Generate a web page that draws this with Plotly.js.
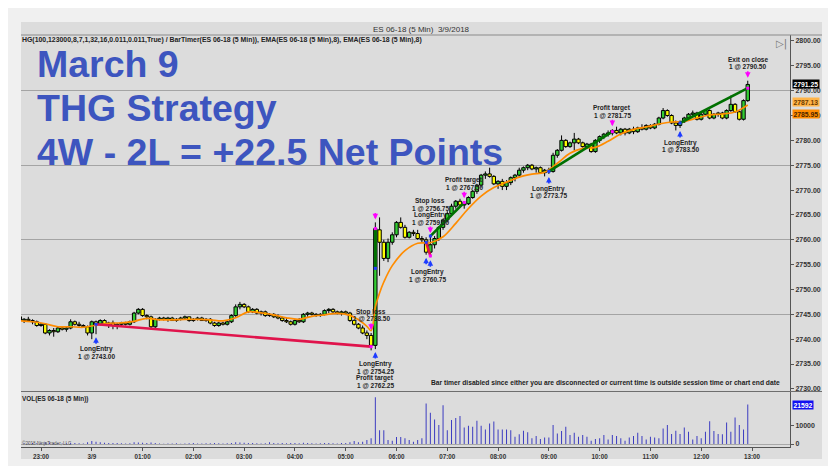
<!DOCTYPE html>
<html><head><meta charset="utf-8">
<script src="https://cdn.plot.ly/plotly-3.0.1.min.js"></script>
<style>html,body{margin:0;padding:0;background:#F0F0F0;}#chart{width:828px;height:466px;}</style>
</head><body><div id="chart"></div>
<script>
// ---------- DATA (ES 06-18, 5 Min bars, 3/8 22:35 -> 3/9 12:55) ----------
const firstBar = '22:35';
const openP = [
 2744.50,2743.75,2744.00,2743.75,2743.50,
 2742.75,2743.00,2741.25,2741.75,2741.50,2742.25,2742.00,2742.25,2743.50,2743.00,2742.75,2742.50,
 2741.25,2743.50,2743.00,2743.75,2743.00,2743.25,2742.75,2743.00,2743.25,2743.00,2743.50,2745.25,
 2746.00,2744.75,2744.50,2742.50,2744.00,2744.25,2744.00,2744.25,2743.75,2744.00,2744.25,2744.50,
 2743.75,2744.00,2744.25,2743.75,2744.00,2743.25,2742.75,2743.25,2743.00,2743.50,2744.75,2746.50,
 2747.00,2746.50,2745.50,2746.00,2745.25,2745.50,2744.75,2745.00,2744.50,2744.25,2743.75,2743.50,
 2743.00,2743.75,2743.50,2745.00,2745.25,2745.00,2744.75,2745.00,2745.75,2746.00,2745.50,2745.25,
 2745.50,2745.25,2743.75,2743.00,2742.25,2741.25,2740.75,2738.75,2762.00,2759.50,2756.25,2759.50,
 2761.00,2763.50,2762.50,2760.50,2761.50,2761.25,2760.25,2760.00,2757.50,2759.00,2760.25,2762.50,
 2764.00,2765.25,2766.75,2767.75,2767.00,2767.25,2768.50,2769.75,2771.00,2773.00,2773.25,2772.75,
 2771.25,2771.75,2770.75,2771.50,2772.50,2773.00,2774.00,2774.50,2775.00,2774.25,2774.50,2773.50,
 2774.00,2773.75,2777.00,2778.00,2780.00,2778.75,2779.50,2780.25,2779.50,2778.75,2779.25,2777.75,
 2780.00,2780.75,2781.25,2781.50,2782.00,2781.50,2782.25,2781.50,2782.25,2781.75,2782.50,2782.25,
 2783.00,2782.50,2783.25,2784.50,2786.00,2785.00,2783.50,2783.00,2783.75,2784.50,2785.25,2785.50,
 2784.25,2785.25,2786.00,2784.50,2785.25,2785.50,2784.50,2786.00,2787.25,2785.75,2784.25,2788.00
];
const highP = [
 2745.00,2744.25,2744.50,2744.00,2743.75,
 2743.25,2743.25,2742.00,2742.25,2742.50,2742.50,2742.50,2744.00,2743.75,2743.50,2743.00,2742.75,
 2743.75,2743.75,2744.00,2744.00,2743.50,2743.75,2743.25,2743.50,2743.50,2743.75,2745.50,2746.25,
 2746.25,2745.00,2744.75,2744.25,2744.50,2744.50,2744.50,2744.50,2744.25,2744.50,2744.75,2744.50,
 2744.25,2744.50,2744.50,2744.25,2744.25,2743.50,2743.50,2743.50,2743.75,2745.00,2747.00,2747.50,
 2747.25,2746.75,2746.25,2746.25,2745.75,2745.75,2745.25,2745.25,2745.00,2744.50,2744.25,2743.75,
 2744.00,2744.25,2745.25,2745.50,2745.50,2745.25,2745.25,2746.00,2746.25,2746.25,2745.75,2745.75,
 2745.75,2745.50,2744.00,2743.25,2742.75,2741.75,2741.25,2763.50,2764.50,2760.00,2760.25,2761.50,
 2763.75,2764.50,2763.00,2761.75,2762.00,2762.00,2760.75,2760.50,2760.75,2760.75,2762.75,2764.25,
 2765.75,2767.25,2768.00,2768.25,2767.75,2768.75,2770.00,2771.25,2773.25,2773.75,2774.50,2773.00,
 2772.00,2772.25,2772.00,2772.75,2773.25,2774.50,2774.75,2775.25,2775.25,2774.75,2774.75,2774.25,
 2774.50,2777.50,2778.25,2781.00,2780.25,2779.75,2781.50,2780.50,2779.75,2779.50,2779.50,2780.25,
 2781.00,2781.50,2782.00,2782.25,2782.75,2782.50,2782.50,2782.50,2782.75,2782.75,2783.25,2783.25,
 2783.25,2783.50,2784.75,2786.50,2786.25,2785.25,2784.00,2784.00,2784.75,2785.50,2786.00,2785.75,
 2785.50,2786.25,2786.25,2785.50,2785.75,2785.75,2786.25,2789.00,2787.50,2786.00,2788.25,2792.00
];
const lowP = [
 2743.25,2743.25,2743.50,2743.00,2742.50,
 2742.50,2741.00,2740.75,2740.50,2741.25,2741.75,2741.50,2742.00,2742.75,2742.50,2742.25,2740.75,
 2740.00,2741.00,2742.75,2742.75,2742.25,2742.00,2742.00,2742.50,2742.75,2742.75,2743.25,2745.00,
 2744.50,2744.00,2742.00,2742.25,2743.75,2743.75,2743.50,2743.75,2743.50,2743.75,2744.00,2743.50,
 2743.50,2743.75,2743.75,2743.50,2743.00,2742.50,2742.50,2742.75,2742.75,2743.25,2744.50,2746.00,
 2746.25,2745.25,2745.25,2745.00,2744.75,2744.50,2744.50,2744.25,2744.00,2743.50,2743.25,2742.75,
 2742.75,2743.25,2743.25,2744.50,2744.75,2744.50,2744.50,2744.75,2745.25,2745.25,2745.00,2744.75,
 2745.00,2743.50,2742.75,2742.00,2741.00,2740.00,2737.75,2738.00,2752.75,2755.75,2755.50,2759.00,
 2760.50,2762.25,2760.25,2760.25,2760.75,2760.00,2759.50,2757.00,2756.50,2758.25,2759.75,2762.00,
 2763.50,2764.75,2766.25,2766.50,2766.25,2767.00,2768.25,2769.25,2770.50,2772.25,2772.50,2771.00,
 2770.25,2770.00,2770.00,2771.00,2771.75,2772.50,2773.50,2774.00,2774.00,2773.50,2773.25,2772.75,
 2773.25,2773.50,2776.50,2777.75,2778.50,2778.50,2778.00,2779.25,2778.50,2778.25,2777.50,2777.50,
 2779.50,2780.25,2780.75,2781.00,2781.25,2781.00,2781.00,2781.25,2781.25,2781.50,2782.00,2782.00,
 2782.25,2782.25,2783.00,2784.25,2784.75,2783.25,2782.00,2782.50,2783.50,2784.25,2784.75,2784.00,
 2784.00,2785.00,2784.25,2784.25,2784.75,2784.25,2784.25,2785.75,2785.50,2784.00,2784.00,2787.75
];
const closeP = [
 2743.75,2744.00,2743.75,2743.50,2742.75,
 2743.00,2741.25,2741.75,2741.50,2742.25,2742.00,2742.25,2743.50,2743.00,2742.75,2742.50,2741.25,
 2743.50,2743.00,2743.75,2743.00,2743.25,2742.75,2743.00,2743.25,2743.00,2743.50,2745.25,2746.00,
 2744.75,2744.50,2742.50,2744.00,2744.25,2744.00,2744.25,2743.75,2744.00,2744.25,2744.50,2743.75,
 2744.00,2744.25,2743.75,2744.00,2743.25,2742.75,2743.25,2743.00,2743.50,2744.75,2746.50,2747.00,
 2746.50,2745.50,2746.00,2745.25,2745.50,2744.75,2745.00,2744.50,2744.25,2743.75,2743.50,2743.00,
 2743.75,2743.50,2745.00,2745.25,2745.00,2744.75,2745.00,2745.75,2746.00,2745.50,2745.25,2745.50,
 2745.25,2743.75,2743.00,2742.25,2741.25,2740.75,2738.75,2762.25,2759.50,2756.25,2759.50,2761.00,
 2763.50,2762.50,2760.50,2761.50,2761.25,2760.25,2760.00,2757.50,2759.00,2760.25,2762.50,2764.00,
 2765.25,2766.75,2767.75,2767.00,2767.25,2768.50,2769.75,2771.00,2773.00,2773.25,2772.75,2771.25,
 2771.75,2770.75,2771.50,2772.50,2773.00,2774.00,2774.50,2775.00,2774.25,2774.50,2773.50,2774.00,
 2773.75,2777.00,2778.00,2780.00,2778.75,2779.50,2780.25,2779.50,2778.75,2779.25,2777.75,2780.00,
 2780.75,2781.25,2781.50,2782.00,2781.50,2782.25,2781.50,2782.25,2781.75,2782.50,2782.25,2783.00,
 2782.50,2783.25,2784.50,2786.00,2785.00,2783.50,2783.00,2783.75,2784.50,2785.25,2785.50,2784.25,
 2785.25,2786.00,2784.50,2785.25,2785.50,2784.50,2786.00,2787.25,2785.75,2784.25,2788.00,2791.25
];
const volumeV = [
 600,400,300,500,400,
 700,900,800,600,500,300,400,700,500,400,300,900,
 1600,1200,900,700,600,500,500,400,300,400,900,800,
 700,500,800,600,300,200,300,300,400,200,300,400,
 500,300,300,400,400,500,400,300,400,600,900,800,
 700,600,500,400,300,400,900,500,400,500,400,600,
 600,400,700,500,400,300,400,600,500,400,300,500,
 600,900,1600,900,1300,2200,3100,25700,7600,7600,2200,1800,
 3800,3800,3100,2200,1300,2200,3100,22200,17100,13500,10400,21300,
 7600,13100,14200,15300,9100,10000,9500,12700,10000,8000,11300,12400,
 8000,8000,8000,7600,4000,5300,7300,6500,3100,4400,2700,3500,
 3600,10400,5800,7100,9500,4900,6200,4000,4900,4000,1800,2700,
 3100,4900,2500,4900,4400,3100,1800,3600,4400,6200,4400,2500,
 4000,3500,3100,8500,10400,5500,7300,5500,9100,6700,2500,4400,
 3100,6700,12500,7100,5500,5300,11800,6700,14500,10400,8000,21592
];
// EMA(8)
const emaTimes = ['22:35','22:50','23:05','23:20','23:35','23:50','00:05','00:20','00:35','00:50','01:05','01:20','01:35','01:50','02:05','02:20','02:35','02:50','03:05','03:20','03:35','03:50','04:05','04:20','04:35','04:50','05:05','05:15','05:25','05:30','05:35','05:40','05:45','05:55','06:10','06:25','06:40','06:55','07:10','07:25','07:40','07:55','08:10','08:25','08:40','08:55','09:10','09:25','09:40','09:55','10:10','10:25','10:40','10:55','11:10','11:25','11:40','11:55','12:10','12:25','12:40','12:55'];
const emaVals = [2743.7,2743.5,2743.1,2742.5,2742.5,2742.4,2742.8,2743.2,2743.3,2743.6,2744.2,2743.9,2743.9,2744.0,2744.0,2743.9,2743.7,2744.3,2745.5,2745.3,2744.9,2744.3,2744.0,2744.6,2744.9,2745.2,2744.8,2743.9,2742.6,2741.7,2746.5,2749.3,2751.5,2754.8,2757.8,2759.3,2759.4,2760.6,2763.3,2766.3,2768.8,2770.5,2771.6,2772.6,2773.2,2773.6,2775.4,2777.4,2778.4,2778.6,2779.8,2781.3,2782.2,2782.7,2783.3,2783.7,2783.8,2784.5,2785.1,2785.3,2785.7,2787.1];
// trades
const entryTimes  = ['00:05','05:35','06:35','06:40','09:00','11:35'];
const entryPrices = [2743.00,2754.25,2759.50,2760.75,2773.75,2783.50];
const exitTimes   = ['05:30','05:35','06:40','07:20','10:15','12:55'];
const exitPrices  = [2738.50,2762.25,2756.75,2767.50,2781.75,2790.50];
const exitNames   = ['Stop loss','Profit target','Stop loss','Profit target','Profit target','Exit on close'];
// axis labels
const tickTimes  = ['23:00','00:00','01:00','02:00','03:00','04:00','05:00','06:00','07:00','08:00','09:00','10:00','11:00','12:00','13:00'];
const tickLabels = ['23:00','3/9','01:00','02:00','03:00','04:00','05:00','06:00','07:00','08:00','09:00','10:00','11:00','12:00','13:00'];
const volTicks = [0, 10000];
const lastPrice = 2791.25, ema1Last = 2787.13, ema2Last = 2785.95;

// ---------- helpers ----------
function toX(s){ const h = +s.slice(0,2); return (h >= 22 ? '2018-03-08 ' : '2018-03-09 ') + s + ':00'; }
const startMin = (+firstBar.slice(0,2))*60 + (+firstBar.slice(3));
const barLabels = openP.map((_, i) => { const m = (startMin + 5*i) % 1440; return String(Math.floor(m/60)).padStart(2,'0') + ':' + String(m%60).padStart(2,'0'); });
const barX = barLabels.map(toX);
const bi = t => barLabels.indexOf(t);

const L = 21, R = 790, T = 35, B = 447;
const px = x => (x - L) / (R - L);
const py = y => (B - y) / (B - T);
const FONT = 'Liberation Sans, Arial, sans-serif';

// ---------- traces ----------
const traces = [];
traces.push({type:'scatter', mode:'lines', x:[barX[0]], y:[emaVals[0]], xaxis:'x', yaxis:'y3', line:{width:0}, hoverinfo:'skip'});
const bodyBase = openP.map((o, i) => Math.min(o, closeP[i]));
const bodyLen  = openP.map((o, i) => Math.max(Math.abs(closeP[i] - o), 0.1));
const bodyCol  = openP.map((o, i) => closeP[i] >= o ? '#33CC33' : '#FFFF00');
traces.push({
  type:'bar', x: barX, base: bodyBase, y: bodyLen, xaxis:'x', yaxis:'y', width: 240000,
  marker:{color: bodyCol, line:{color:'#000000', width:1}}, hoverinfo:'skip'
});
const wx = [], wy = [];
openP.forEach((o, i) => {
  const top = Math.max(o, closeP[i]), bot = Math.min(o, closeP[i]);
  if (highP[i] > top) { wx.push(barX[i], barX[i], null); wy.push(highP[i], top, null); }
  if (lowP[i] < bot)  { wx.push(barX[i], barX[i], null); wy.push(bot, lowP[i], null); }
});
traces.push({type:'scatter', mode:'lines', x: wx, y: wy, xaxis:'x', yaxis:'y', connectgaps:false,
  line:{color:'#000000', width:1}, hoverinfo:'skip'});
traces.push({
  type:'scatter', mode:'lines', x: emaTimes.map(toX), y: emaVals, xaxis:'x', yaxis:'y',
  line:{color:'#FF8C00', width:1.7, shape:'spline', smoothing:1}, hoverinfo:'skip'
});
entryTimes.forEach((t, k) => {
  const win = exitPrices[k] > entryPrices[k];
  traces.push({
    type:'scatter', mode:'lines', x:[toX(t), toX(exitTimes[k])], y:[entryPrices[k], exitPrices[k]],
    xaxis:'x', yaxis:'y', line:{color: win ? '#007000' : '#E0144C', width: 2.6}, hoverinfo:'skip'
  });
});
traces.push({type:'scatter', mode:'markers', x: entryTimes.map(toX), y: entryPrices, xaxis:'x', yaxis:'y',
  marker:{symbol:'square', size:3, color:'#1E3CFF'}, hoverinfo:'skip'});
traces.push({type:'scatter', mode:'markers', x: exitTimes.map(toX), y: exitPrices, xaxis:'x', yaxis:'y',
  marker:{symbol:'square', size:3, color:'#FF00FF'}, hoverinfo:'skip'});
traces.push({
  type:'bar', x: barX, y: volumeV, xaxis:'x', yaxis:'y2', width: 70000,
  marker:{color:'#3A3AC0', line:{width:0}}, hoverinfo:'skip'
});

// ---------- annotations ----------
const ann = [];
const small = (txt, x, y, opts) => Object.assign({xref:'paper', yref:'paper', x:px(x), y:py(y), text:txt, showarrow:false,
  font:{family:FONT, size:6.9, color:'#222'}, xanchor:'left', yanchor:'middle'}, opts||{});

ann.push(small('ES 06-18 (5 Min)  3/9/2018', 421, 29, {xanchor:'center', font:{family:FONT, size:8, color:'#333'}}));
ann.push(small('<b>HG(100,123000,8,7,1,32,16,0.011,0.011,True) / BarTimer(ES 06-18 (5 Min)), EMA(ES 06-18 (5 Min),8), EMA(ES 06-18 (5 Min),8)</b>', 20, 40));
ann.push(small('<b>VOL(ES 06-18 (5 Min))</b>', 20, 399, {font:{family:FONT, size:6.4, color:'#222'}}));
ann.push(small('©2018 NinjaTrader, LLC', 20, 443, {font:{family:FONT, size:4.6, color:'#555'}}));
ann.push(small('<b>Bar timer disabled since either you are disconnected or current time is outside session time or chart end date</b>', 782, 383, {xanchor:'right', font:{family:FONT, size:6.7, color:'#222'}}));
ann.push(small('▷|', 781, 44, {xanchor:'center', font:{family:'DejaVu Sans', size:10, color:'#777'}}));

const titleLines = ['March 9', 'THG Strategy', '4W - 2L = +22.5 Net Points'];
titleLines.forEach((s, k) => ann.push(small('<b>' + s + '</b>', 35, 64 + 44*k,
  {font:{family:FONT, size:37.5, color:'#3D55BF'}})));

const flag = (txt, yref, y, bg, fg, ys) => ({xref:'paper', yref:yref, x:px(792), y:y, xanchor:'left', yanchor:'middle',
  text:'<b>'+txt+'</b>', showarrow:false, bgcolor:bg, borderpad:0.5, yshift: ys||0, font:{family:FONT, size:6.8, color:fg}});
ann.push(flag(lastPrice.toFixed(2), 'y', lastPrice, '#000000', '#FFFFFF'));
ann.push(flag(ema1Last.toFixed(2), 'y', ema1Last, '#FFB347', '#6B3A00', 3));
ann.push(flag(ema2Last.toFixed(2), 'y', ema2Last, '#FF8C00', '#4A2500', -3));
ann.push(flag(String(volumeV[volumeV.length-1]), 'y2', volumeV[volumeV.length-1], '#1010F0', '#FFFFFF'));

entryTimes.forEach(t => { const i = bi(t);
  ann.push({x: barX[i], y: lowP[i], xref:'x', yref:'y', text:'', showarrow:true, ax:0, ay:8, yshift:-3,
    arrowhead:2, arrowsize:0.7, arrowwidth:1.6, arrowcolor:'#1E3CFF'}); });
exitTimes.forEach(t => { const i = bi(t);
  ann.push({x: barX[i], y: highP[i], xref:'x', yref:'y', text:'', showarrow:true, ax:0, ay:-8, yshift:3,
    arrowhead:2, arrowsize:0.7, arrowwidth:1.6, arrowcolor:'#FF00FF'}); });

const fmt = p => '1 @ ' + p.toFixed(2);
const groups = [
  {t: entryTimes[0], side:'below', lines:['LongEntry', fmt(entryPrices[0])]},
  {t: exitTimes[0],  side:'above', lines:[exitNames[0], fmt(exitPrices[0])]},
  {t: entryTimes[1], side:'below', lines:['LongEntry', fmt(entryPrices[1]), exitNames[1], fmt(exitPrices[1])]},
  {t: exitTimes[2],  side:'above', lines:[exitNames[2], fmt(exitPrices[2]), 'LongEntry', fmt(entryPrices[2])]},
  {t: entryTimes[3], side:'below', lines:['LongEntry', fmt(entryPrices[3])], dx:-3},
  {t: exitTimes[3],  side:'above', lines:[exitNames[3], fmt(exitPrices[3])]},
  {t: entryTimes[4], side:'below', lines:['LongEntry', fmt(entryPrices[4])]},
  {t: exitTimes[4],  side:'above', lines:[exitNames[4], fmt(exitPrices[4])]},
  {t: entryTimes[5], side:'below', lines:['LongEntry', fmt(entryPrices[5])]},
  {t: exitTimes[5],  side:'above', lines:[exitNames[5], fmt(exitPrices[5])]}
];
groups.forEach(g => { const i = bi(g.t); const n = g.lines.length;
  g.lines.forEach((ln, k) => ann.push({
    x: barX[i], y: g.side === 'below' ? lowP[i] : highP[i], xref:'x', yref:'y', showarrow:false,
    text:'<b>'+ln+'</b>', xanchor:'center', yanchor:'middle', xshift: g.dx || 0,
    yshift: g.side === 'below' ? -(15 + 7*k) : (14 + 7*(n-1-k)),
    font:{family:FONT, size:6.5, color:'#222'}
  }));
});

const rectP = (x0,y0,x1,y1,c) => ({type:'rect', xref:'paper', yref:'paper', x0:px(x0), x1:px(x1), y0:py(y1), y1:py(y0),
  fillcolor:c, line:{width:0}, layer:'below'});
const lineP = (x0,y0,x1,y1,c) => ({type:'line', xref:'paper', yref:'paper', x0:px(x0), x1:px(x1), y0:py(y0), y1:py(y1),
  line:{color:c, width:1}});
const shapes = [
  rectP(0,0,828,8,'#FFFFFF'), rectP(0,0,8,466,'#FFFFFF'),
  rectP(21,22,822,459,'#DCDCDC'),
  lineP(21,35,822,35,'#8A8A8A'),
  lineP(21,391.5,822,391.5,'#6E6E6E')
];

const layout = {
  width:828, height:466, margin:{l:L, r:828-R, t:T, b:466-B, pad:0},
  paper_bgcolor:'#F0F0F0', plot_bgcolor:'#DCDCDC', showlegend:false, hovermode:false, barmode:'overlay',
  xaxis:{type:'date', anchor:'y2', range:['2018-03-08 22:36:22','2018-03-09 13:44:54'],
    tickvals: tickTimes.map(toX), ticktext: tickLabels, ticks:'outside', ticklen:3, tickcolor:'#555',
    tickfont:{family:FONT, size:6.3, color:'#333', weight:'bold'}, showgrid:false, zeroline:false,
    showline:true, linecolor:'#555', linewidth:1, fixedrange:true},
  yaxis:{domain:[0.136,1], range:[2729.58,2801.2], side:'right', anchor:'x', tick0:2730, dtick:5, tickformat:'.2f',
    ticks:'outside', ticklen:3, tickcolor:'#555', tickfont:{family:FONT, size:7, color:'#333', weight:'bold'},
    showgrid:false, zeroline:false, showline:true, linecolor:'#555', linewidth:1, fixedrange:true},
  yaxis3:{overlaying:'y', anchor:'x', side:'right', range:[2729.58,2801.2], tickvals:[2745,2760,2775,2790],
    showticklabels:false, ticks:'', showgrid:true, gridcolor:'#A4A4A4', gridwidth:1, zeroline:false, showline:false, fixedrange:true},
  yaxis2:{domain:[0,0.133], range:[-1640,28400], side:'right', anchor:'x', tickvals: volTicks, tickformat:'d',
    ticks:'outside', ticklen:3, tickcolor:'#555', tickfont:{family:FONT, size:7, color:'#333', weight:'bold'},
    showgrid:false, zeroline:true, zerolinecolor:'#A8A8A8', zerolinewidth:1, showline:true, linecolor:'#555', linewidth:1, fixedrange:true},
  annotations: ann, shapes: shapes
};

Plotly.newPlot('chart', traces, layout, {staticPlot:true, displayModeBar:false});
</script></body></html>
